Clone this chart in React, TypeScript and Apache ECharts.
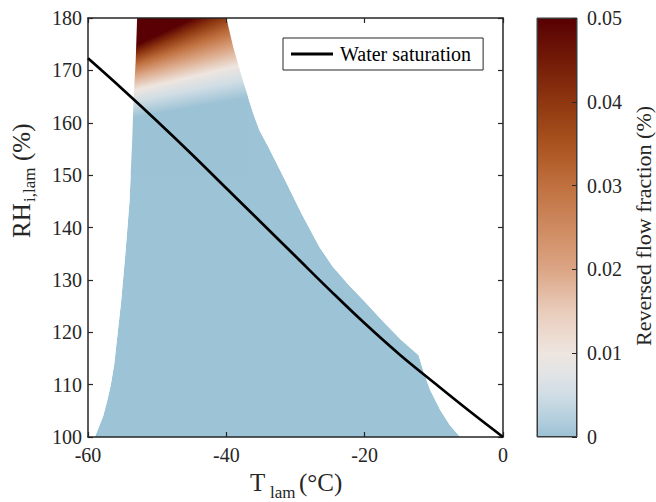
import React, { useEffect, useRef } from 'react';
import * as echarts from 'echarts';

// ---- Data ----
// Water saturation line (T in °C, RH over ice in %)
const satT = [-60, -55, -50, -45, -40, -35, -30, -25, -20, -15, -10, -5, 0];
const satRH = [172.3, 166.4, 160.3, 154.0, 147.5, 141.0, 134.5, 128.0, 121.7, 115.8, 110.4, 105.1, 100];

// Left boundary of the shaded domain (bottom to top)
const leftEdgeRH = [100, 102, 104, 107, 110, 114, 120, 126, 135, 145, 157, 165, 172, 180];
const leftEdgeT = [-59.0, -58.4, -57.8, -57.2, -56.7, -56.2, -55.7, -55.2, -54.6, -54.0, -53.6, -53.4, -53.1, -52.9];

// Right boundary of the shaded domain (top to bottom)
const rightEdgeRH = [180, 174.4, 168, 161.7, 158.5, 155.3, 149, 142.6, 136.2, 132.5, 129, 125.6, 122, 118.6, 115.6, 112.5, 109, 105.2, 102.3, 100];
const rightEdgeT = [-40.0, -39.0, -37.6, -36.1, -35.2, -33.9, -31.5, -29.1, -26.5, -24.6, -22.3, -19.8, -17.3, -14.8, -12.2, -11.5, -10.55, -9.1, -7.7, -6.2];

// Reversed flow fraction contours: RH of each level at two temperatures
const fracLevels = [0, 0.005, 0.01, 0.02, 0.03, 0.04, 0.05];
const contourT = [-54, -36];
const contourRhAtLeft = [160.8, 163.8, 166.0, 168.6, 170.6, 172.5, 174.2];
const contourRhAtRight = [165.0, 168.5, 171.6, 175.5, 179.0, 182.5, 185.5];

// Colormap (value -> colour)
const cmapLevels = [0, 0.0025, 0.005, 0.0075, 0.01, 0.015, 0.02, 0.025, 0.03, 0.035, 0.04, 0.045, 0.05];
const cmapColors = ['#9CC2D5', '#B8D1DE', '#D0DDE5', '#E2E4E6', '#EEE5DF', '#E9CCBB', '#DBA584', '#CE8A60', '#C0703F', '#A9531F', '#8E3710', '#731B07', '#580003'];

const cbTicks = [0, 0.01, 0.02, 0.03, 0.04, 0.05];

// ---- helpers ----
const FONT = '"Liberation Serif", "Times New Roman", Times, serif';
const AX = '#262626';
const REGION_BLUE = '#9DC3D6';

function hexToRgb(h: string) {
  const n = parseInt(h.slice(1), 16);
  return [(n >> 16) & 255, (n >> 8) & 255, n & 255];
}
function colorAt(v: number) {
  if (v <= cmapLevels[0]) return cmapColors[0];
  for (let i = 1; i < cmapLevels.length; i++) {
    if (v <= cmapLevels[i]) {
      const f = (v - cmapLevels[i - 1]) / (cmapLevels[i] - cmapLevels[i - 1]);
      const a = hexToRgb(cmapColors[i - 1]);
      const b = hexToRgb(cmapColors[i]);
      const c = a.map((x, k) => Math.round(x + (b[k] - x) * f));
      return `rgb(${c[0]},${c[1]},${c[2]})`;
    }
  }
  return cmapColors[cmapColors.length - 1];
}

const RH_TOP = 190;
const RH_BOT = 150;
const STEP = 0.25;
const stripCenters: number[][] = [];
for (let t = contourT[0] + STEP / 2; t < -37; t += STEP) stripCenters.push([t, 170]);

function buildOption(): any {
  const leftPts = leftEdgeT.map((t, i) => [t, leftEdgeRH[i]]);
  const rightPts = rightEdgeT.map((t, i) => [t, rightEdgeRH[i]]);
  const regionPts = [...leftPts, ...rightPts];
  const leftMask = [[-60, 100], ...leftPts, [-60, 180]];
  const rightMask = [...rightPts, [0, 100], [0, 180]];

  const polySeries = (name: string, pts: number[][], fill: string) => ({
    type: 'custom',
    name,
    xAxisIndex: 0,
    yAxisIndex: 0,
    silent: true,
    z: 2,
    data: [[-30, 140]],
    renderItem: (_p: any, api: any) => ({
      type: 'polygon',
      shape: { points: pts.map((p) => api.coord(p)) },
      style: { fill, stroke: null },
    }),
  });

  const axisCommon = {
    axisLine: { show: true, onZero: false, lineStyle: { color: AX, width: 1.5 } },
    axisTick: { show: true, inside: true, length: 5, lineStyle: { color: AX, width: 1.2 } },
    splitLine: { show: false },
    z: 3,
  };

  const cbStops = cmapLevels.map((l, i) => ({ offset: l / 0.05, color: cmapColors[i] }));

  return {
    animation: false,
    backgroundColor: '#fff',
    grid: [
      { left: 88, top: 18, width: 415, height: 419 },
      { left: 537, top: 18, width: 40, height: 419, show: true, borderColor: '#3a3a3a', borderWidth: 1, backgroundColor: 'transparent' },
    ],
    xAxis: [
      {
        ...axisCommon, type: 'value', gridIndex: 0, min: -60, max: 0, interval: 20, position: 'bottom',
        axisLabel: { fontSize: 20, fontFamily: FONT, color: AX, margin: 8 },
      },
      {
        ...axisCommon, type: 'value', gridIndex: 0, min: -60, max: 0, interval: 20, position: 'top',
        axisLabel: { show: false },
      },
      { type: 'category', gridIndex: 1, data: ['cb'], show: false },
    ],
    yAxis: [
      {
        ...axisCommon, type: 'value', gridIndex: 0, min: 100, max: 180, interval: 10, position: 'left',
        axisLabel: { fontSize: 20, fontFamily: FONT, color: AX, margin: 6 },
      },
      {
        ...axisCommon, type: 'value', gridIndex: 0, min: 100, max: 180, interval: 10, position: 'right',
        axisLabel: { show: false },
      },
      {
        type: 'value', gridIndex: 1, min: 0, max: 0.05, interval: 0.01, position: 'right',
        axisLine: { show: false },
        axisTick: { show: true, inside: true, length: 5, lineStyle: { color: AX, width: 1 } },
        splitLine: { show: false },
        axisLabel: {
          fontSize: 20, fontFamily: FONT, color: AX, margin: 10,
          formatter: (v: number) => {
            const m = cbTicks.find((t) => Math.abs(t - v) < 1e-9);
            return m === 0 ? '0' : (m ?? v).toFixed(2);
          },
        },
        z: 3,
      },
    ],
    legend: {
      data: [{ name: 'Water saturation', icon: 'rect' }],
      left: 283,
      top: 38,
      padding: [6, 12, 6, 8],
      itemWidth: 42,
      itemHeight: 3,
      borderColor: AX,
      borderWidth: 1,
      borderRadius: 0,
      backgroundColor: '#fff',
      z: 6,
      textStyle: { fontSize: 20, fontFamily: FONT, color: '#000', padding: [0, 0, 0, 2] },
    },
    series: [
      polySeries('region', regionPts, REGION_BLUE),
      {
        type: 'custom',
        name: 'shading',
        xAxisIndex: 0,
        yAxisIndex: 0,
        silent: true,
        clip: true,
        z: 2,
        data: stripCenters,
        renderItem: (_p: any, api: any) => {
          const t = api.value(0);
          const a = api.coord([t - STEP / 2, RH_TOP]);
          const b = api.coord([t + STEP / 2, RH_BOT]);
          const f = (t - contourT[0]) / (contourT[1] - contourT[0]);
          const stops = fracLevels
            .map((lv, i) => {
              const rh = contourRhAtLeft[i] + (contourRhAtRight[i] - contourRhAtLeft[i]) * f;
              const off = Math.min(1, Math.max(0, (RH_TOP - rh) / (RH_TOP - RH_BOT)));
              return { offset: off, color: colorAt(lv) };
            })
            .sort((p, q) => p.offset - q.offset);
          return {
            type: 'rect',
            shape: { x: a[0], y: a[1], width: b[0] - a[0] + 0.8, height: b[1] - a[1] },
            style: { fill: new echarts.graphic.LinearGradient(0, 0, 0, 1, stops), stroke: null },
          };
        },
      },
      polySeries('leftMask', leftMask, '#ffffff'),
      polySeries('rightMask', rightMask, '#ffffff'),
      {
        type: 'line',
        name: 'Water saturation',
        xAxisIndex: 0,
        yAxisIndex: 0,
        data: satT.map((t, i) => [t, satRH[i]]),
        symbol: 'none',
        showSymbol: false,
        smooth: 0.4,
        lineStyle: { color: '#000', width: 2.7 },
        itemStyle: { color: '#000' },
        z: 4,
        silent: true,
      },
      {
        type: 'bar',
        name: 'colorbar',
        xAxisIndex: 2,
        yAxisIndex: 2,
        data: [0.05],
        barWidth: '100%',
        silent: true,
        itemStyle: {
          color: new echarts.graphic.LinearGradient(0, 1, 0, 0, cbStops),
          borderColor: '#3a3a3a',
          borderWidth: 1,
        },
      },
    ],
    graphic: [
      { type: 'text', x: 250, y: 482, style: { text: 'T', fontSize: 25, fontFamily: FONT, fill: AX, align: 'left', verticalAlign: 'middle' } },
      { type: 'text', x: 270, y: 492, style: { text: 'lam', fontSize: 17, fontFamily: FONT, fill: AX, align: 'left', verticalAlign: 'middle' } },
      { type: 'text', x: 299, y: 482, style: { text: '(°C)', fontSize: 25, fontFamily: FONT, fill: AX, align: 'left', verticalAlign: 'middle' } },
      { type: 'text', x: 21, y: 238, rotation: Math.PI / 2, style: { text: 'RH', fontSize: 25, fontFamily: FONT, fill: AX, align: 'left', verticalAlign: 'middle' } },
      { type: 'text', x: 29, y: 202, rotation: Math.PI / 2, style: { text: 'i,lam', fontSize: 17, fontFamily: FONT, fill: AX, align: 'left', verticalAlign: 'middle' } },
      { type: 'text', x: 21, y: 161, rotation: Math.PI / 2, style: { text: '(%)', fontSize: 25, fontFamily: FONT, fill: AX, align: 'left', verticalAlign: 'middle' } },
      { type: 'text', x: 643, y: 226, rotation: Math.PI / 2, style: { text: 'Reversed flow fraction (%)', fontSize: 22, fontFamily: FONT, fill: AX, align: 'center', verticalAlign: 'middle' } },
    ],
  };
}

export default function App() {
  const ref = useRef<HTMLDivElement>(null);
  useEffect(() => {
    if (!ref.current) return;
    const chart = echarts.init(ref.current, null, { renderer: 'svg' });
    chart.setOption(buildOption());
    return () => chart.dispose();
  }, []);
  return <div ref={ref} style={{ position: 'absolute', left: 0, top: 0, width: 656, height: 502 }} />;
}
